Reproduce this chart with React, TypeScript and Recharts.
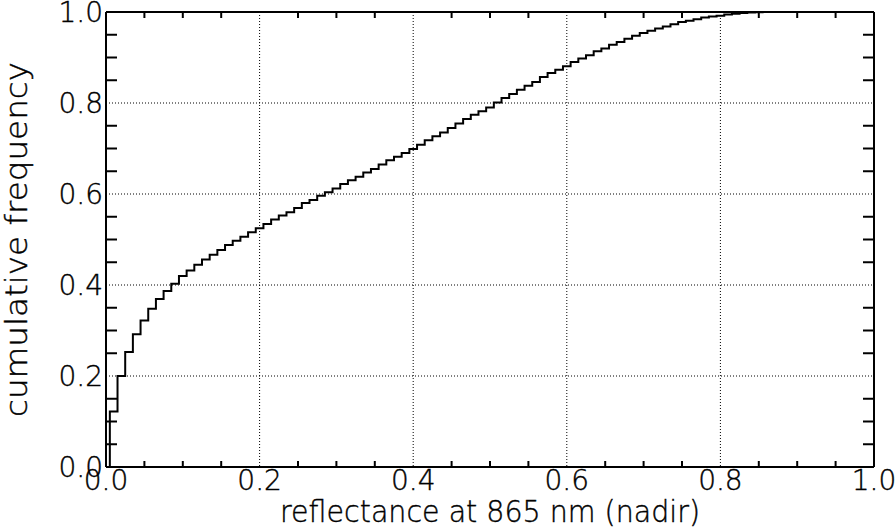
import React from 'react';
import { LineChart, Line, XAxis, YAxis, CartesianGrid, ReferenceLine } from 'recharts';

// reflectance at 865 nm (bin centres)
const reflectance = [
  0.00, 0.01, 0.02, 0.03, 0.04, 0.05, 0.06, 0.07, 0.08, 0.09,
  0.10, 0.11, 0.12, 0.13, 0.14, 0.15, 0.16, 0.17, 0.18, 0.19,
  0.20, 0.21, 0.22, 0.23, 0.24, 0.25, 0.26, 0.27, 0.28, 0.29,
  0.30, 0.31, 0.32, 0.33, 0.34, 0.35, 0.36, 0.37, 0.38, 0.39,
  0.40, 0.41, 0.42, 0.43, 0.44, 0.45, 0.46, 0.47, 0.48, 0.49,
  0.50, 0.51, 0.52, 0.53, 0.54, 0.55, 0.56, 0.57, 0.58, 0.59,
  0.60, 0.61, 0.62, 0.63, 0.64, 0.65, 0.66, 0.67, 0.68, 0.69,
  0.70, 0.71, 0.72, 0.73, 0.74, 0.75, 0.76, 0.77, 0.78, 0.79,
  0.80, 0.81, 0.82, 0.83, 0.84, 0.85, 0.86, 0.87,
];

// cumulative frequency
const cumulativeFrequency = [
  0.000, 0.122, 0.200, 0.253, 0.292, 0.322, 0.348, 0.369, 0.387, 0.403,
  0.420, 0.432, 0.4445, 0.456, 0.4665, 0.477, 0.488, 0.497, 0.506, 0.516,
  0.525, 0.534, 0.544, 0.5525, 0.560, 0.569, 0.580, 0.587, 0.596, 0.604,
  0.612, 0.622, 0.630, 0.638, 0.647, 0.655, 0.665, 0.674, 0.682, 0.690,
  0.699, 0.708, 0.718, 0.727, 0.735, 0.745, 0.755, 0.765, 0.774, 0.782,
  0.790, 0.801, 0.811, 0.820, 0.829, 0.838, 0.846, 0.857, 0.866, 0.873,
  0.881, 0.890, 0.898, 0.905, 0.914, 0.920, 0.928, 0.934, 0.941, 0.948,
  0.954, 0.959, 0.964, 0.968, 0.973, 0.978, 0.981, 0.984, 0.988, 0.990,
  0.992, 0.9945, 0.996, 0.998, 0.999, 0.9995, 1.000, 1.000,
];

const majorTicks = [0, 0.2, 0.4, 0.6, 0.8, 1.0];
const majorTickLabels = ['0.0', '0.2', '0.4', '0.6', '0.8', '1.0'];
const gridTicks = [0.2, 0.4, 0.6, 0.8];
const minorTicks = [
  0.05, 0.1, 0.15, 0.25, 0.3, 0.35, 0.45, 0.5, 0.55, 0.65, 0.7, 0.75, 0.85, 0.9, 0.95,
];

const xTitle = 'reflectance at 865 nm (nadir)';
const yTitle = 'cumulative frequency';

const data = reflectance.map((r, i) => ({ r, f: cumulativeFrequency[i] }));

const FONT = "'DejaVu Sans', sans-serif";
const FS = 28;
const TITLE_FS = 30;
const X_TICK_LEN = 6;
const Y_TICK_LEN = 11;

const fmt = (v: number) => {
  const i = majorTicks.findIndex((t) => Math.abs(t - v) < 1e-9);
  return i >= 0 ? majorTickLabels[i] : '';
};

// vertical reference line -> short inward ticks at bottom and top of frame
const XMinorTick = (p: any) => {
  const x = p.x1;
  const yTop = Math.min(p.y1, p.y2);
  const yBot = Math.max(p.y1, p.y2);
  return (
    <g>
      <line x1={x} x2={x} y1={yBot} y2={yBot - X_TICK_LEN} stroke="#000" strokeWidth={2} />
      <line x1={x} x2={x} y1={yTop} y2={yTop + X_TICK_LEN} stroke="#000" strokeWidth={2} />
    </g>
  );
};

// horizontal reference line -> short inward ticks at left and right of frame
const YMinorTick = (p: any) => {
  const y = p.y1;
  const xL = Math.min(p.x1, p.x2);
  const xR = Math.max(p.x1, p.x2);
  return (
    <g>
      <line y1={y} y2={y} x1={xL} x2={xL + Y_TICK_LEN} stroke="#000" strokeWidth={2} />
      <line y1={y} y2={y} x1={xR} x2={xR - Y_TICK_LEN} stroke="#000" strokeWidth={2} />
    </g>
  );
};

const XTitle = (props: any) => {
  const vb = props.viewBox || {};
  return (
    <text
      x={vb.x + vb.width / 2}
      y={vb.y + 55}
      textAnchor="middle"
      fontFamily={FONT}
      fontSize={TITLE_FS}
      fontWeight={300}
      textLength={420}
      lengthAdjust="spacingAndGlyphs"
      fill="#000"
      stroke="#000"
      strokeWidth={0.4}
    >
      {xTitle}
    </text>
  );
};

const YTitle = (props: any) => {
  const vb = props.viewBox || {};
  const cx = vb.x + 27;
  const cy = vb.y + vb.height / 2;
  return (
    <text
      x={cx}
      y={cy}
      transform={`rotate(-90 ${cx} ${cy})`}
      textAnchor="middle"
      fontFamily={FONT}
      fontSize={TITLE_FS}
      fontWeight={300}
      textLength={355}
      lengthAdjust="spacingAndGlyphs"
      fill="#000"
      stroke="#000"
      strokeWidth={0.4}
    >
      {yTitle}
    </text>
  );
};

export default function App() {
  const axisLine = { stroke: '#000', strokeWidth: 2 };
  const tickStyle = {
    fontFamily: FONT,
    fontSize: FS,
    fill: '#000',
    fontWeight: 300,
    stroke: '#000',
    strokeWidth: 0.4,
  };
  return (
    <div style={{ position: 'absolute', left: 0, top: 0 }}>
      <LineChart
        width={895}
        height={531}
        data={data}
        margin={{ top: 12, right: 21, left: 0, bottom: 0 }}
        style={{ background: '#fff' }}
      >
        <CartesianGrid
          stroke="#000"
          strokeWidth={1}
          strokeDasharray="1 2"
          verticalValues={gridTicks}
          horizontalValues={gridTicks}
        />
        <XAxis
          dataKey="r"
          type="number"
          domain={[0, 1]}
          allowDataOverflow
          ticks={majorTicks}
          tickFormatter={fmt}
          interval={0}
          height={64}
          axisLine={axisLine}
          tickLine={false}
          tickSize={0}
          tickMargin={3}
          tick={tickStyle}
          label={{ content: XTitle }}
        />
        <YAxis
          type="number"
          domain={[0, 1]}
          allowDataOverflow
          ticks={majorTicks}
          tickFormatter={fmt}
          interval={0}
          width={106}
          axisLine={axisLine}
          tickLine={false}
          tickSize={0}
          tickMargin={3}
          tick={tickStyle}
          label={{ content: YTitle }}
        />
        {minorTicks.map((t) => (
          <ReferenceLine key={`xm${t}`} x={t} shape={XMinorTick} />
        ))}
        {minorTicks.map((t) => (
          <ReferenceLine key={`ym${t}`} y={t} shape={YMinorTick} />
        ))}
        <ReferenceLine y={1} stroke="#000" strokeWidth={2} />
        <ReferenceLine x={1} stroke="#000" strokeWidth={2} />
        <Line
          dataKey="f"
          type="step"
          stroke="#000"
          strokeWidth={2}
          dot={false}
          activeDot={false}
          isAnimationActive={false}
        />
      </LineChart>
    </div>
  );
}
